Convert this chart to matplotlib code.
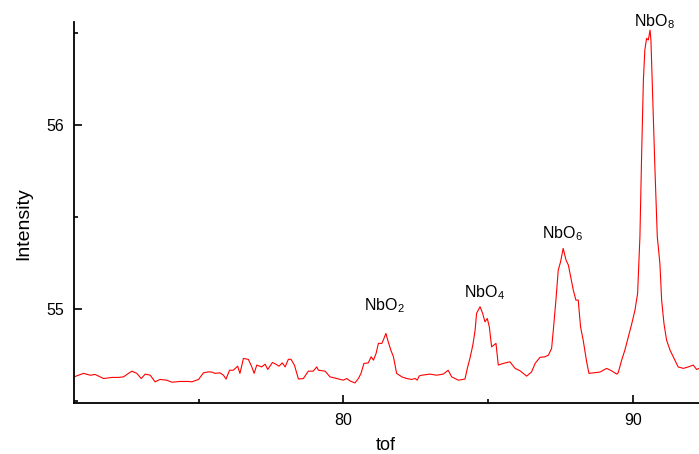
import matplotlib
matplotlib.use("Agg")
import matplotlib.pyplot as plt
from matplotlib.ticker import MultipleLocator

plt.rcParams['font.family'] = ['Liberation Sans', 'DejaVu Sans']
plt.rcParams['mathtext.fontset'] = 'custom'
plt.rcParams['mathtext.rm'] = 'Liberation Sans'
plt.rcParams['mathtext.it'] = 'Liberation Sans:italic'

# spectrum
tof = [70.70, 71.03, 71.26, 71.43, 71.72, 72.01, 72.23, 72.41, 72.58, 72.70,
       72.87, 73.02, 73.16, 73.33, 73.50, 73.67, 73.90, 74.08, 74.36, 74.65,
       74.77, 75.00, 75.17, 75.34, 75.46, 75.57, 75.74, 75.86, 75.95, 76.07,
       76.20, 76.35, 76.43, 76.55, 76.72, 76.84, 76.92, 77.01, 77.18, 77.30,
       77.39, 77.55, 77.67, 77.78, 77.89, 77.99, 78.10, 78.19, 78.31, 78.45,
       78.62, 78.79, 78.96, 79.08, 79.14, 79.37, 79.54, 79.77, 80.00, 80.12,
       80.23, 80.40, 80.52, 80.61, 80.71, 80.86, 80.96, 81.04, 81.13, 81.21,
       81.33, 81.38, 81.47, 81.55, 81.64, 81.73, 81.84, 82.02, 82.19, 82.36,
       82.48, 82.55, 82.62, 82.71, 82.99, 83.22, 83.45, 83.62, 83.74, 83.97,
       84.20, 84.28, 84.37, 84.47, 84.55, 84.60, 84.72, 84.81, 84.89, 84.97,
       85.04, 85.12, 85.27, 85.35, 85.52, 85.75, 85.93, 86.10, 86.33, 86.50,
       86.62, 86.79, 86.96, 87.08, 87.19, 87.25, 87.34, 87.42, 87.50, 87.59,
       87.69, 87.77, 87.85, 87.94, 88.03, 88.11, 88.19, 88.28, 88.40, 88.48,
       88.63, 88.86, 89.09, 89.26, 89.44, 89.49, 89.61, 89.72, 89.84, 89.96,
       90.07, 90.16, 90.24, 90.30, 90.36, 90.41, 90.47, 90.53, 90.59, 90.62,
       90.67, 90.76, 90.84, 90.93, 90.99, 91.07, 91.16, 91.28, 91.39, 91.56,
       91.74, 91.91, 92.08, 92.20, 92.28]
intensity = [54.632, 54.651, 54.641, 54.645, 54.623, 54.629, 54.629, 54.632, 54.651, 54.663,
             54.651, 54.623, 54.647, 54.641, 54.605, 54.618, 54.614, 54.603, 54.607, 54.607,
             54.605, 54.618, 54.654, 54.659, 54.658, 54.651, 54.654, 54.641, 54.620, 54.668,
             54.668, 54.690, 54.651, 54.732, 54.727, 54.686, 54.651, 54.696, 54.686, 54.701,
             54.672, 54.710, 54.701, 54.690, 54.708, 54.686, 54.727, 54.728, 54.696, 54.620,
             54.623, 54.663, 54.663, 54.686, 54.668, 54.663, 54.632, 54.623, 54.614, 54.623,
             54.610, 54.599, 54.623, 54.651, 54.705, 54.708, 54.741, 54.723, 54.759, 54.814,
             54.814, 54.832, 54.868, 54.822, 54.777, 54.741, 54.651, 54.632, 54.623, 54.618,
             54.623, 54.614, 54.637, 54.641, 54.647, 54.641, 54.647, 54.668, 54.632, 54.614,
             54.620, 54.678, 54.732, 54.804, 54.886, 54.977, 55.013, 54.977, 54.931, 54.949,
             54.904, 54.795, 54.814, 54.696, 54.705, 54.714, 54.678, 54.665, 54.636, 54.659,
             54.705, 54.738, 54.741, 54.750, 54.786, 54.886, 55.049, 55.212, 55.257, 55.330,
             55.266, 55.239, 55.176, 55.103, 55.049, 55.049, 54.904, 54.832, 54.714, 54.651,
             54.654, 54.658, 54.678, 54.665, 54.647, 54.654, 54.723, 54.777, 54.849, 54.922,
             54.995, 55.085, 55.393, 55.846, 56.245, 56.408, 56.471, 56.462, 56.516, 56.462,
             56.208, 55.755, 55.393, 55.248, 55.049, 54.922, 54.832, 54.777, 54.741, 54.686,
             54.678, 54.686, 54.696, 54.672, 54.678]

peak_labels = ['NbO$_2$', 'NbO$_4$', 'NbO$_6$', 'NbO$_8$']
label_x = [81.43, 84.88, 87.57, 90.75]
label_y = [54.995, 55.064, 55.384, 56.534]

fig = plt.figure(figsize=(6.99, 4.54), dpi=100)
ax = fig.add_axes([74 / 699, 1 - 403 / 454, 625 / 699, 381 / 454])

ax.plot(tof, intensity, color='red', linewidth=0.8)

for lab, lx, ly in zip(peak_labels, label_x, label_y):
    ax.text(lx, ly, lab, ha='center', va='baseline', fontsize=11.5)

ax.set_xlim(70.70, 92.28)
ax.set_ylim(54.49, 56.56)
ax.xaxis.set_major_locator(MultipleLocator(10))
ax.xaxis.set_minor_locator(MultipleLocator(5))
ax.yaxis.set_major_locator(MultipleLocator(1))
ax.yaxis.set_minor_locator(MultipleLocator(0.5))

ax.spines['top'].set_visible(False)
ax.spines['right'].set_visible(False)
ax.spines['left'].set_linewidth(1.3)
ax.spines['bottom'].set_linewidth(1.3)
ax.tick_params(which='major', direction='in', length=5.5, width=1.2,
               labelsize=11.5, pad=7)
ax.tick_params(which='minor', direction='in', length=3, width=1.2)

ax.set_xlabel('tof', fontsize=13)
ax.set_ylabel('Intensity', fontsize=14)
ax.xaxis.set_label_coords(0.498, -0.088)
ax.yaxis.set_label_coords(-0.067, 0.470)

fig.savefig('out.png', dpi=100)
